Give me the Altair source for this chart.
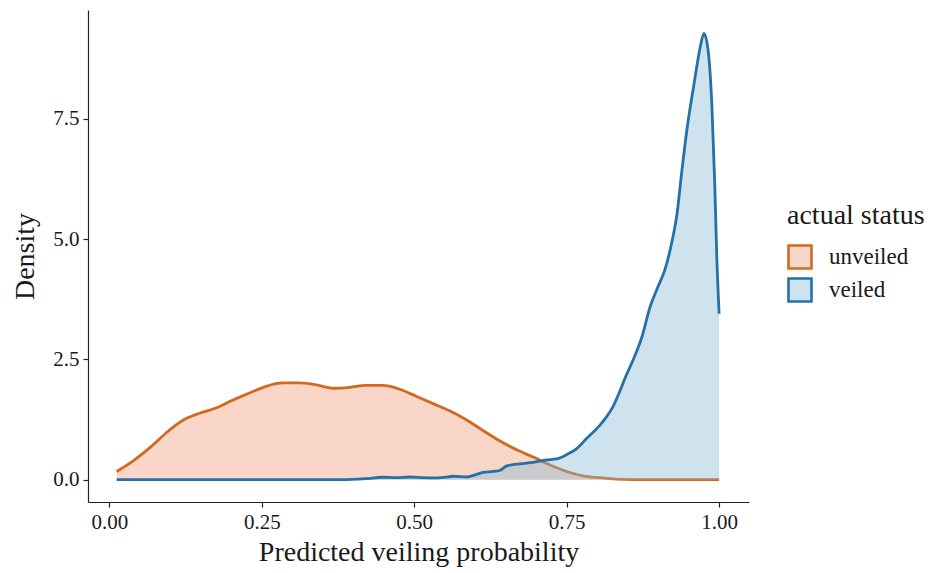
import altair as alt
import pandas as pd

# Kernel density estimates of the predicted probability, by actual status
prob_unveiled = [0.012, 0.038, 0.066, 0.093, 0.120, 0.148, 0.175, 0.202, 0.230, 0.257,
                 0.285, 0.312, 0.339, 0.367, 0.394, 0.421, 0.449, 0.476, 0.504, 0.531,
                 0.558, 0.586, 0.613, 0.640, 0.668, 0.695, 0.722, 0.750, 0.777, 0.805,
                 0.832, 0.860, 0.900, 0.950, 1.000]
dens_unveiled = [0.17, 0.38, 0.66, 0.97, 1.23, 1.38, 1.49, 1.65, 1.80, 1.94,
                 2.01, 2.01, 1.97, 1.90, 1.92, 1.96, 1.96, 1.88, 1.73, 1.58,
                 1.43, 1.24, 1.02, 0.81, 0.62, 0.47, 0.31, 0.17, 0.08, 0.04,
                 0.01, 0.0, 0.0, 0.0, 0.0]

prob_veiled = [0.012, 0.100, 0.200, 0.300, 0.380, 0.420, 0.449, 0.470, 0.493, 0.515,
               0.531, 0.550, 0.564, 0.586, 0.600, 0.613, 0.629, 0.640, 0.651, 0.673,
               0.695, 0.717, 0.733, 0.750, 0.766, 0.783, 0.805, 0.815, 0.826, 0.836,
               0.846, 0.860, 0.873, 0.887, 0.898, 0.911, 0.922, 0.931, 0.939, 0.947,
               0.958, 0.969, 0.975, 0.982, 0.988, 0.993, 0.996, 1.000]
dens_veiled = [0.0, 0.0, 0.0, 0.0, 0.0, 0.02, 0.05, 0.04, 0.055, 0.04,
               0.035, 0.05, 0.07, 0.055, 0.10, 0.15, 0.17, 0.19, 0.28, 0.33,
               0.36, 0.41, 0.43, 0.52, 0.64, 0.86, 1.14, 1.30, 1.52, 1.80,
               2.12, 2.52, 2.95, 3.60, 3.96, 4.36, 4.91, 5.53, 6.43, 7.26,
               8.16, 8.99, 9.28, 8.92, 7.82, 6.09, 4.70, 3.45]

statuses = ["unveiled", "veiled"]
fill_colors = ["rgba(240,152,118,0.4)", "rgba(135,185,212,0.4)"]
line_colors = ["#D2691E", "#2471A8"]

unveiled = pd.DataFrame({"prob": prob_unveiled, "density": dens_unveiled, "status": "unveiled"})
veiled = pd.DataFrame({"prob": prob_veiled, "density": dens_veiled, "status": "veiled"})

FONT = "Liberation Serif"

legend = alt.Legend(
    title="actual status",
    orient="none",
    legendX=699,
    legendY=192,
    symbolType="square",
    symbolSize=530,
    symbolStrokeWidth=2.6,
    labelFontSize=23,
    titleFontSize=28,
    titleFontWeight="normal",
    labelFont=FONT,
    titleFont=FONT,
    labelColor="#1a1a1a",
    titleColor="#1a1a1a",
    rowPadding=-1,
    labelOffset=16,
    titlePadding=14,
)

x_enc = alt.X(
    "prob:Q",
    scale=alt.Scale(domain=[-0.035, 1.049], nice=False, zero=False),
    axis=alt.Axis(values=[0, 0.25, 0.5, 0.75, 1.0], format=".2f",
                  title="Predicted veiling probability"),
)
y_enc = alt.Y(
    "density:Q",
    scale=alt.Scale(domain=[-0.465, 9.765], nice=False, zero=False),
    axis=alt.Axis(values=[0, 2.5, 5, 7.5], format=".1f", title="Density"),
)
fill_enc = alt.Fill("status:N", scale=alt.Scale(domain=statuses, range=fill_colors), legend=legend)
stroke_enc = alt.Stroke("status:N", scale=alt.Scale(domain=statuses, range=line_colors), legend=legend)


def area(df):
    return alt.Chart(df).mark_area(interpolate="monotone").encode(x=x_enc, y=y_enc, fill=fill_enc)


def line(df):
    return alt.Chart(df).mark_line(interpolate="monotone", strokeWidth=2.8).encode(
        x=x_enc, y=y_enc, stroke=stroke_enc
    )


chart = (
    alt.layer(area(unveiled), line(unveiled), area(veiled), line(veiled))
    .properties(
        width=661,
        height=492,
        autosize=alt.AutoSizeParams(type="none"),
        padding={"left": 88, "top": 10, "right": 194, "bottom": 71},
        background="white",
    )
    .configure_view(stroke=None)
    .configure_axis(
        grid=False,
        domainColor="#222222",
        domainWidth=1.2,
        tickColor="#222222",
        tickWidth=1.2,
        tickSize=5,
        labelFont=FONT,
        titleFont=FONT,
        labelFontSize=21,
        titleFontSize=28,
        titleFontWeight="normal",
        labelColor="#1a1a1a",
        titleColor="#1a1a1a",
        labelPadding=4,
    )
    .configure_axisX(titlePadding=6)
    .configure_axisY(titlePadding=13)
)

chart.save("out.html", embed_options={"renderer": "svg", "actions": False})
